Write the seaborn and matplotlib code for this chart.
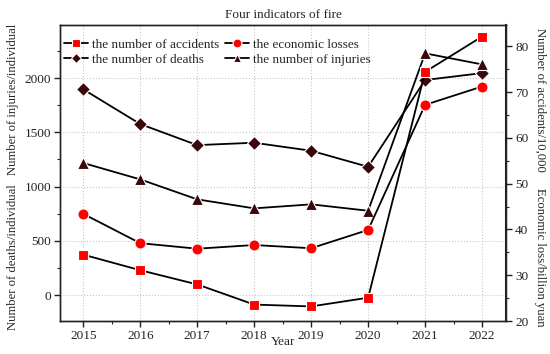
import matplotlib
matplotlib.use("Agg")
import matplotlib.pyplot as plt
from matplotlib.ticker import MultipleLocator
import seaborn as sns
import pandas as pd

# data
years = [2015, 2016, 2017, 2018, 2019, 2020, 2021, 2022]
accidents = [34.5, 31.1, 28.0, 23.6, 23.2, 25.1, 74.4, 82.1]      # 10,000, right axis
econ_loss = [43.4, 37.0, 35.8, 36.6, 35.9, 39.9, 67.2, 71.2]      # billion yuan, right axis
deaths = [1896, 1576, 1382, 1404, 1330, 1182, 1982, 2046]         # left axis
injuries = [1217, 1066, 882, 799, 836, 777, 2228, 2126]           # left axis

df = pd.DataFrame({"year": years, "accidents": accidents, "econ": econ_loss,
                   "deaths": deaths, "injuries": injuries})

sns.set_theme(style="ticks")
plt.rcParams['font.family'] = ['Liberation Serif', 'DejaVu Serif']
plt.rcParams['font.size'] = 9.5
plt.rcParams['axes.linewidth'] = 1.0

fs = 9.5
lfs = 9.1
fig = plt.figure(figsize=(5.5, 3.54), dpi=100)
ax = fig.add_axes([0.109, 0.093, 0.811, 0.836])
ax2 = ax.twinx()

red = '#ff0000'
brown = '#3a0808'
common = dict(color='black', linewidth=1.3, markersize=7,
              markeredgecolor='white', markeredgewidth=0.8)

sns.lineplot(data=df, x="year", y="accidents", ax=ax2, marker='s', markerfacecolor=red,
             label='the number of accidents', legend=False, **common)
sns.lineplot(data=df, x="year", y="econ", ax=ax2, marker='o', markerfacecolor=red,
             label='the economic losses', legend=False, **dict(common, markersize=8))
sns.lineplot(data=df, x="year", y="deaths", ax=ax, marker='D', markerfacecolor=brown,
             label='the number of deaths', legend=False, **common)
sns.lineplot(data=df, x="year", y="injuries", ax=ax, marker='^', markerfacecolor=brown,
             label='the number of injuries', legend=False, **dict(common, markersize=8))

ax.set_xlim(2014.59, 2022.42)
ax.set_ylim(-240, 2488)
ax2.set_ylim(20, 84.6)
ax.set_xticks(years)
ax.xaxis.set_minor_locator(MultipleLocator(0.5))
ax.yaxis.set_major_locator(MultipleLocator(500))
ax.yaxis.set_minor_locator(MultipleLocator(250))
ax2.yaxis.set_major_locator(MultipleLocator(10))
ax2.yaxis.set_minor_locator(MultipleLocator(5))

ax.grid(True, which='major', linestyle=':', color='#c8c8c8', linewidth=0.8)
ax2.grid(False)
for a in (ax, ax2):
    a.tick_params(which='major', direction='out', length=4, width=1, labelsize=fs,
                  colors='#222222', pad=2.5)
    a.tick_params(which='minor', direction='out', length=2, width=0.8)
    for s in a.spines.values():
        s.set_visible(True)
        s.set_color('#222222')
ax2.spines['right'].set_linewidth(1.5)

ax.set_xlabel('')
ax.set_ylabel('')
ax2.set_ylabel('')
fig.text(0.515, 0.035, 'Year', ha='center', va='center', fontsize=fs)
fig.text(0.024, 0.718, 'Number of injuries/individual', rotation=90, ha='center', va='center', fontsize=lfs)
fig.text(0.024, 0.274, 'Number of deaths/individual', rotation=90, ha='center', va='center', fontsize=lfs)
fig.text(0.982, 0.718, 'Number of accidents/10,000', rotation=-90, ha='center', va='center', fontsize=lfs)
fig.text(0.982, 0.274, 'Economic loss/billion yuan', rotation=-90, ha='center', va='center', fontsize=lfs)
ax.set_title('Four indicators of fire', fontsize=fs, pad=5)

h1, l1 = ax2.get_legend_handles_labels()
h0, l0 = ax.get_legend_handles_labels()
handles = [h1[0], h0[0], h1[1], h0[1]]
labels = [l1[0], l0[0], l1[1], l0[1]]
ax.legend(handles, labels, ncol=2, loc='upper left', bbox_to_anchor=(-0.012, 0.985),
          frameon=False, fontsize=fs, handlelength=1.8, handletextpad=0.3,
          columnspacing=0.5, labelspacing=0.2, borderaxespad=0.3, markerscale=0.8)

fig.savefig('out.png', dpi=100)
